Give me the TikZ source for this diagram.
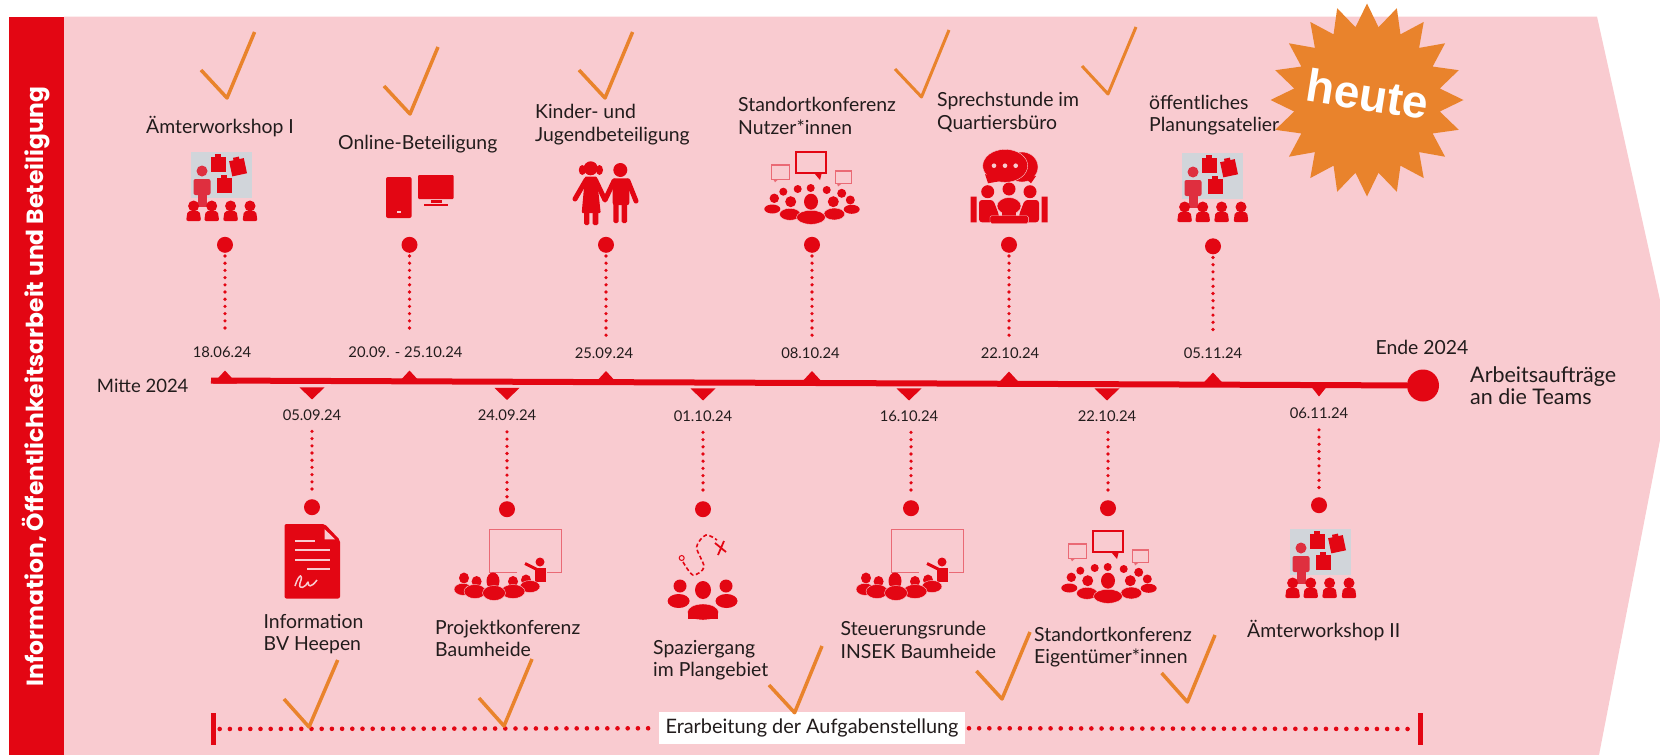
\documentclass[tikz,border=0pt]{standalone}
\usepackage{fontspec}
\setmainfont{Lato}
\newfontfamily\titlefont{Poppins}
\newfontfamily\heutefont{Liberation Sans}
\usetikzlibrary{positioning, shapes.geometric}

\definecolor{timered}{HTML}{E30613}
\definecolor{bgpink}{HTML}{F9CBD0}
\definecolor{checkorange}{HTML}{E9832C}
\definecolor{icongrey}{HTML}{D1D5DA}
\definecolor{personred}{HTML}{DF2F3F}
\definecolor{boardred}{HTML}{EA6A75}
\definecolor{labelblack}{HTML}{221C1C}

\tikzset{
  tickup/.style={isosceles triangle, isosceles triangle stretches, shape border rotate=90, fill=timered, inner sep=0pt, minimum width=24pt, minimum height=13pt, anchor=apex},
  tickdown/.style={isosceles triangle, isosceles triangle stretches, shape border rotate=-90, fill=timered, inner sep=0pt, minimum width=25pt, minimum height=12pt, anchor=apex},
  pindot/.style={circle, fill=timered, inner sep=0pt, minimum size=16pt},
  datelabel/.style={font=\fontsize{14.8}{16}\selectfont, text=labelblack, inner sep=0pt, text height=10pt, text depth=1pt},
  itemlabel/.style={font=\fontsize{19.4}{22.5}\selectfont, text=labelblack, align=left, anchor=west, inner sep=0pt},
  dotline/.style={timered, line width=3.6pt, line cap=round, dash pattern=on 0pt off 7.2pt},
  bardots/.style={timered, line width=4.6pt, line cap=round, dash pattern=on 0pt off 10.2pt},
  barend/.style={fill=timered, inner sep=0pt, minimum width=5pt, minimum height=32pt},
  checkmark/.style={checkorange, line width=3.5pt, line join=round},
  workshop/.pic={
    \fill[icongrey] (-30.5,-23) rectangle (30.5,23);
    \foreach \nx/\ny/\na in {-3/-11/0, 17/-8/12, 3/10/0} {
      \fill[timered, rotate around={\na:(\nx,\ny)}] (\nx-7.5,\ny-7.5) rectangle (\nx+7.5,\ny+8);
      \fill[timered, rotate around={\na:(\nx,\ny)}] (\nx-3,\ny-10) rectangle (\nx+3,\ny-7);
    }
    \fill[personred] (-19,-4) circle (5.5);
    \fill[personred, rounded corners=2pt] (-27.5,4) rectangle (-10.5,20);
    \fill[personred] (-23.5,18) rectangle (-14.5,32);
    \foreach \px in {-27.4,-9.3,9.6,29} {
      \fill[timered] (\px,31) circle (5.5);
      \fill[timered, rounded corners=2pt] (\px-7.5,46) -- (\px-6,36) -- (\px+6,36) -- (\px+7.5,46) -- cycle;
    }
  },
  devices/.pic={
    \fill[timered, rounded corners=2pt] (-34,-20) rectangle (-8.4,21);
    \fill[bgpink] (-23,14) rectangle (-19,16);
    \fill[timered, rounded corners=1pt] (-2,-22) rectangle (33.7,2);
    \fill[timered] (11,3) rectangle (22,6);
    \fill[timered] (4,6.5) rectangle (28,8.5);
  },
  kids/.pic={
    \fill[timered] (-14.3,-24.7) circle (7);
    \fill[timered] (-22.7,-23) ellipse (3.5 and 5) (-5.5,-23) ellipse (3.5 and 5);
    \fill[timered, rounded corners=1pt] (-20,-16.5) -- (-8.3,-16.5) -- (-4.3,20) -- (-23.3,20) -- cycle;
    \fill[timered, rounded corners=1.5pt] (-21,18) rectangle (-15.7,32) (-12.3,18) rectangle (-6.7,32);
    \draw[timered, line width=5pt, line cap=round, line join=round] (-19,-13) -- (-30,6) (-9.5,-13) -- (0,7) -- (9,-12) (23,-12) -- (31,8);
    \fill[timered] (15.3,-23) circle (7);
    \fill[timered, rounded corners=2pt] (7.7,-14.7) rectangle (24.3,12);
    \fill[timered, rounded corners=1.5pt] (8.3,8) rectangle (13.7,30) (16.7,8) rectangle (22,30);
  },
  conference/.pic={
    \draw[timered, line width=1.8pt] (-16,-35.7) rectangle (13.7,-14.7);
    \fill[timered] (2.3,-14.7) -- (9.7,-14.7) -- (8,-8) -- cycle;
    \draw[boardred, line width=1.3pt] (-40.3,-23) rectangle (-22.7,-8.7);
    \fill[boardred] (-38.7,-8.7) -- (-33.7,-8.7) -- (-37,-5.7) -- cycle;
    \draw[boardred, line width=1.3pt] (23.7,-17) rectangle (39.7,-4.7);
    \fill[boardred] (25,-4.7) -- (30,-4.7) -- (26,-1.5) -- cycle;
    \foreach \hx/\hy/\hr in {-28.7/3.7/4, -14.3/1/4, -1.3/0/4, 14.7/2/4, 29.7/5.3/4.5, -37.7/10.3/4.7, 38.3/12/4.5, -21.3/13.7/5.5, 21.3/13.7/5.5} {
      \fill[timered] (\hx,\hy) circle (\hr);
    }
    \fill[timered] (-39.7,21) ellipse (8 and 4.5) (39.7,21.3) ellipse (8 and 4.5);
    \draw[bgpink, fill=timered] (-22,26.3) ellipse (10.5 and 6);
    \draw[bgpink, fill=timered] (22.3,26) ellipse (10.5 and 6);
    \fill[timered] (-1,13.7) ellipse (7 and 8);
    \draw[bgpink, fill=timered] (-1,29.3) ellipse (14.5 and 7);
  },
  chat/.pic={
    \draw[bgpink, fill=timered] (13,-19) ellipse (16 and 15);
    \fill[timered] (16,-8) -- (22,-2.7) -- (27,-10) -- cycle;
    \draw[bgpink, fill=timered] (-3.8,-20.2) ellipse (22.5 and 16.5);
    \fill[timered] (-24,-12) -- (-21,-2.7) -- (-8,-5) -- cycle;
    \foreach \dx in {-15,-4,6.7} { \fill[bgpink] (\dx,-20.3) circle (2.3); }
    \foreach \hx/\hy in {-21.3/5.7, 21/5.7, 0/3} { \fill[timered] (\hx,\hy) circle (6.5); }
    \fill[timered] (-38.3,10.7) rectangle (-32.3,36.3) (32.7,10.7) rectangle (38.7,36.3);
    \fill[timered, rounded corners=3pt] (-30,36.3) -- (-30,14) -- (-15.7,14) -- (-10,29) -- (-10,36.3) -- cycle;
    \fill[timered, rounded corners=3pt] (30,36.3) -- (30,14) -- (15.7,14) -- (10,29) -- (10,36.3) -- cycle;
    \draw[bgpink, fill=timered] (0,20) ellipse (12 and 8.5);
    \fill[timered] (-7,24) rectangle (7,30);
    \draw[bgpink, fill=timered, rounded corners=1.5pt] (-19,29.7) rectangle (19.3,37.5);
  },
  briefing/.pic={
    \draw[boardred, line width=1pt] (-8,21.5) -- (-36,21.5) -- (-36,-21.5) -- (36,-21.5) -- (36,21.5) -- (22,21.5);
    \fill[timered] (15,11.5) circle (4.5);
    \fill[timered] (10,17) -- (21,17) -- (21,31) -- (10,31) -- cycle;
    \draw[timered, line width=3pt] (12,19) -- (0,13);
    \foreach \hx/\hy/\bx/\by/\rx/\ry in {-61/27.5/-62/38.8/8/5, 1/29.5/5/36/9/5, -48.4/31/-50/41/10/6, -12/31/-12/41/11/6} {
      \fill[timered] (\hx,\hy) ellipse (5 and 5.5);
      \draw[bgpink, fill=timered] (\bx,\by) ellipse (\rx+1 and \ry+1);
    }
    \fill[timered] (-32,30.5) ellipse (6.5 and 8.5);
    \draw[bgpink, fill=timered] (-31,42.5) ellipse (11.5 and 7.5);
  },
  document/.pic={
    \fill[timered, rounded corners=2pt] (-27.5,-37) -- (12.7,-37) -- (28,-21) -- (28,37.5) -- (-27.5,37.5) -- cycle;
    \fill[bgpink] (12.7,-31.7) -- (23,-21.7) -- (12.7,-21.7) -- cycle;
    \draw[bgpink, line width=2pt] (-17,-20.3) -- (3,-20.3) (-17,-11) -- (18.4,-11) (-17,-1.3) -- (18.4,-1.3) (-5,8) -- (18.4,8);
    \draw[bgpink, line width=1.5pt, line join=round] (-17,25) .. controls (-13,12) and (-8,12) .. (-12,22) .. controls (-14,30) and (-6,26) .. (-4,21) .. controls (-4,26) and (-1,27) .. (5,19);
  },
  walk/.pic={
    \draw[timered, line width=1pt] (-21.3,-32) circle (2.5);
    \draw[timered, line width=1.6pt, dash pattern=on 4pt off 2.5pt] plot[smooth] coordinates {(-20,-28) (-10,-15) (1,-23) (-6.4,-43) (3,-55) (14,-50)};
    \draw[timered, line width=1.8pt] (12,-47) -- (23,-38) (21,-49) -- (15,-35);
    \fill[timered] (-23,-4) circle (6.5) (23,-4) circle (6.5);
    \fill[timered] (-24.4,11) ellipse (11 and 7) (23.5,11) ellipse (11 and 7);
    \fill[timered] (0,0) ellipse (8 and 9);
    \draw[bgpink, fill=timered] (0,22) ellipse (15.5 and 8);
    \fill[timered] (-15,22) rectangle (15,29);
  }
}

\begin{document}
\begin{tikzpicture}[x=1pt, y=-1pt]
\useasboundingbox (0,0) rectangle (1660,755);

% background arrow and side bar
\fill[bgpink] (64,16.5) -- (1597,16.5) -- (1660,300) -- (1660,440) -- (1599,755) -- (64,755) -- cycle;
\fill[timered] (8.5,16.5) rectangle (64,755);
\node[font=\titlefont\bfseries\fontsize{23.4}{26}\selectfont, text=white, rotate=90] (sidetitle) at (36,386.5) {Information, Öffentlichkeitsarbeit und Beteiligung};

% timeline
\coordinate (tlstart) at (211,380.5);
\node[circle, fill=timered, inner sep=0pt, minimum size=32pt] (tlend) at (1423,385.5) {};
\draw[timered, line width=6pt] (tlstart) -- (tlend);
\node[font=\fontsize{18.5}{20}\selectfont, text=labelblack, anchor=east] (tlmid) at (192,386) {Mitte 2024};
\node[font=\fontsize{19.4}{22}\selectfont, text=labelblack, anchor=west] (tlfin) at (1372,347) {Ende 2024};
\node[itemlabel, font=\fontsize{21.5}{22}\selectfont] (tlteams) at (1470,386) {Arbeitsaufträge\\an die Teams};

% upper ticks, dates and pins
\node[tickup] (T1) at (225,370) {};
\node[tickup] (T2) at (409.5,370) {};
\node[tickup] (T3) at (606,370.5) {};
\node[tickup] (T4) at (812,370.5) {};
\node[tickup] (T5) at (1009,371) {};
\node[tickup] (T6) at (1213,372) {};

\node[datelabel, above = 11pt of T1, xshift=-3pt] (D1) {18.06.24};
\node[datelabel, above = 11pt of T2, xshift=-4pt] (D2) {20.09. - 25.10.24};
\node[datelabel, above = 11pt of T3, xshift=-2pt] (D3) {25.09.24};
\node[datelabel, above = 11pt of T4, xshift=-1.5pt] (D4) {08.10.24};
\node[datelabel, above = 11pt of T5, xshift=1pt] (D5) {22.10.24};
\node[datelabel, above = 12pt of T6] (D6) {05.11.24};

\node[pindot, above = 117pt of T1] (P1) {};
\node[pindot, above = 117pt of T2] (P2) {};
\node[pindot, above = 117.5pt of T3] (P3) {};
\node[pindot, above = 117.5pt of T4] (P4) {};
\node[pindot, above = 118pt of T5] (P5) {};
\node[pindot, above = 117.5pt of T6] (P6) {};

\foreach \i in {1,...,6} { \draw[dotline, shorten <=3pt, shorten >=12.5pt] (P\i) -- (P\i |- D\i.north); }

% lower ticks, dates and pins
\node[tickdown] (T7) at (312,400) {};
\node[tickdown] (T8) at (507,400.5) {};
\node[tickdown] (T9) at (703,401) {};
\node[tickdown] (T10) at (909,401) {};
\node[tickdown] (T11) at (1107,401) {};
\node[tickdown, minimum width=19pt] (T12) at (1319,397) {};

\node[datelabel, below = 10pt of T7] (D7) {05.09.24};
\node[datelabel, below = 10pt of T8] (D8) {24.09.24};
\node[datelabel, below = 10pt of T9] (D9) {01.10.24};
\node[datelabel, below = 10pt of T10] (D10) {16.10.24};
\node[datelabel, below = 10pt of T11] (D11) {22.10.24};
\node[datelabel, below = 11.5pt of T12] (D12) {06.11.24};

\node[pindot, below = 99pt of T7] (P7) {};
\node[pindot, below = 100.5pt of T8] (P8) {};
\node[pindot, below = 100pt of T9] (P9) {};
\node[pindot, below = 99pt of T10, xshift=2pt] (P10) {};
\node[pindot, below = 99pt of T11, xshift=1pt] (P11) {};
\node[pindot, below = 100pt of T12] (P12) {};

\foreach \i in {7,...,12} { \draw[dotline, shorten <=10pt, shorten >=4pt] (P\i |- D\i.south) -- (P\i); }

% icons
\pic at (221,175) {workshop};
\pic at (420,197) {devices};
\pic at (605,193) {kids};
\pic at (812,188) {conference};
\pic at (1009,186) {chat};
\pic at (1212,176) {workshop};
\pic at (312,561) {document};
\pic at (525,550.5) {briefing};
\pic at (703,590) {walk};
\pic at (927,550.5) {briefing};
\pic at (1109,567) {conference};
\pic at (1320,552) {workshop};

% heute
\node[star, star points=20, star point ratio=1.31, fill=checkorange, inner sep=0pt, minimum size=193pt] (burst) at (1367,100) {};
\node[font=\heutefont\bfseries\fontsize{46}{48}\selectfont, text=white, rotate=-9, inner sep=0pt] (heute) at (burst.center) [yshift=6pt] {heute};

% upper labels
\node[itemlabel] (L1) at (146,127) {Ämterworkshop I};
\node[itemlabel] (L2) at (338,144) {Online-Beteiligung};
\node[itemlabel] (L3) at (535,124.5) {Kinder- und\\Jugendbeteiligung};
\node[itemlabel] (L4) at (738,116) {Standortkonferenz\\Nutzer*innen};
\node[itemlabel] (L5) at (937,112.5) {Sprechstunde im\\Quartiersbüro};
\node[itemlabel] (L6) at (1149,115) {öffentliches\\Planungsatelier};

% lower labels
\node[itemlabel] (L7) at (263.5,634) {Information\\BV Heepen};
\node[itemlabel] (L8) at (435,638.5) {Projektkonferenz\\Baumheide};
\node[itemlabel] (L9) at (653,660) {Spaziergang\\im Plangebiet};
\node[itemlabel] (L10) at (840.5,640) {Steuerungsrunde\\INSEK Baumheide};
\node[itemlabel] (L11) at (1034,647) {Standortkonferenz\\Eigentümer*innen};
\node[itemlabel] (L12) at (1247,631) {Ämterworkshop II};

% bottom bar
\node[barend] (barL) at (213,729) {};
\node[barend] (barR) at (1420,729) {};
\node[fill=white, font=\fontsize{19.9}{22}\selectfont, text=labelblack, minimum width=305.5pt, minimum height=32pt, inner sep=0pt] (bartext) at (812,728) {Erarbeitung der Aufgabenstellung};
\draw[bardots, shorten <=4pt, shorten >=4pt] (barL) -- (bartext);
\draw[bardots, shorten <=4pt, shorten >=4pt] (bartext) -- (barR);

% check marks
\draw[checkmark] (201,70) -- (227,98) -- (254.6,32);
\draw[checkmark] (384,86) -- (410,114) -- (438,47);
\draw[checkmark] (579,70) -- (605,98) -- (632.6,32);
\draw[checkmark, line width=3pt] (895,69) -- (921.5,97) -- (949,30);
\draw[checkmark, line width=3pt] (1082,66) -- (1108,94) -- (1136,27);
\draw[checkmark] (284,699) -- (309,727) -- (337.7,660);
\draw[checkmark] (479,698) -- (504,726) -- (532,659);
\draw[checkmark] (769,685) -- (794.6,712.7) -- (822,646);
\draw[checkmark] (976.4,671) -- (1002,699) -- (1030,632);
\draw[checkmark] (1161.6,673) -- (1187.4,702) -- (1215,635);
\end{tikzpicture}
\end{document}
